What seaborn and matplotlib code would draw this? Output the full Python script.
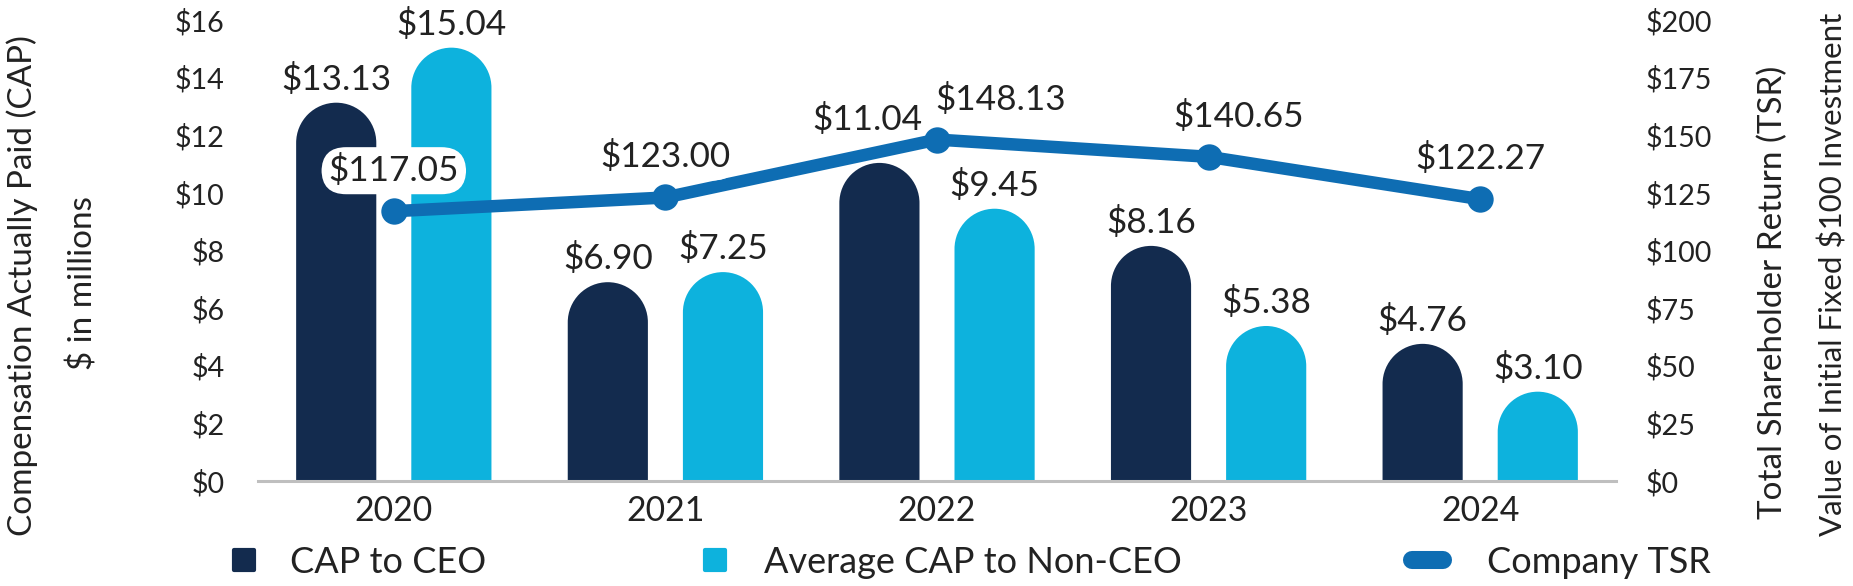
import numpy as np
import pandas as pd
import matplotlib
matplotlib.use("Agg")
import matplotlib.pyplot as plt
from matplotlib.path import Path
from matplotlib.patches import PathPatch
from matplotlib.lines import Line2D
from matplotlib.markers import MarkerStyle
import seaborn as sns

# Data
years = ["2020", "2021", "2022", "2023", "2024"]
cap_ceo = [13.13, 6.90, 11.04, 8.16, 4.76]
cap_non_ceo = [15.04, 7.25, 9.45, 5.38, 3.10]
company_tsr = [117.05, 123.00, 148.13, 140.65, 122.27]

series_names = ["CAP to CEO", "Average CAP to Non-CEO"]
tsr_name = "Company TSR"

DARK = "#132B4E"
CYAN = "#0DB2DD"
LINE = "#0E6DB3"
TEXT = "#222222"
AXIS = "#BFBFBF"

sns.set_theme(style="white")
plt.rcParams["font.family"] = ["Lato", "DejaVu Sans"]
plt.rcParams["text.color"] = TEXT
plt.rcParams["xtick.color"] = TEXT
plt.rcParams["ytick.color"] = TEXT

df = pd.DataFrame({
    "Year": years * 2,
    "CAP": cap_ceo + cap_non_ceo,
    "Series": [series_names[0]] * len(years) + [series_names[1]] * len(years),
})

W, H = 1853, 586
fig = plt.figure(figsize=(W / 100, H / 100), dpi=100)
renderer = fig.canvas.get_renderer()
PT = 0.72  # points per pixel at dpi 100


def fit_size(text, target_px, vertical=False, base=20):
    # font size that gives the text the wanted length in pixels
    t = fig.text(0, 0, text, fontsize=base,
                 rotation=90 if vertical else 0)
    bb = t.get_window_extent(renderer)
    t.remove()
    return base * target_px / (bb.height if vertical else bb.width)


tick_fs = fit_size("$16", 50)
year_fs = fit_size("2020", 78)
value_fs = fit_size("$13.13", 110)
legend_fs = fit_size("Average CAP to Non-CEO", 418)

ax = fig.add_axes([258 / W, 105 / H, (1616 - 258) / W, (481 - 20) / H])

sns.barplot(data=df, x="Year", y="CAP", hue="Series", order=years,
            hue_order=series_names, palette=[DARK, CYAN], width=0.848,
            gap=0.304, saturation=1, errorbar=None, legend=False,
            linewidth=0, edgecolor="none", ax=ax)

ax.set_xlim(-0.5, 4.5)
ax.set_ylim(0, 16)
ax.set_yticks(np.arange(0, 17, 2))
ax.set_yticklabels([f"${v}" for v in range(0, 17, 2)], fontsize=tick_fs)
ax.tick_params(axis="y", length=0, pad=24)
ax.tick_params(axis="x", length=0, pad=10, labelsize=year_fs)
ax.set_xlabel("")
ax.set_ylabel("")
for s in ["top", "right", "left"]:
    ax.spines[s].set_visible(False)
ax.spines["bottom"].set_color(AXIS)
ax.spines["bottom"].set_linewidth(2.2)

# rounded tops on bars: rebuild each seaborn bar as one path
px_x = ax.transData.transform((1, 0))[0] - ax.transData.transform((0, 0))[0]
px_y = ax.transData.transform((0, 1))[1] - ax.transData.transform((0, 0))[1]
arc = Path.arc(0, 180)
bar_label_adjust = {(0, 2): (-12, 33)}  # (series, year) -> (dx px, dy px)
for i, p in enumerate(list(ax.patches)):
    x, w, h = p.get_x(), p.get_width(), p.get_height()
    color = p.get_facecolor()
    p.remove()
    ry = (w * px_x / 2) / px_y
    cx = x + w / 2
    verts = [(x + w, 0.0), (x + w, h - ry)]
    codes = [Path.MOVETO, Path.LINETO]
    verts += list(arc.vertices[1:] * [w / 2, ry] + [cx, h - ry])
    codes += list(arc.codes[1:])
    verts += [(x, 0.0), (x + w, 0.0)]
    codes += [Path.LINETO, Path.CLOSEPOLY]
    ax.add_patch(PathPatch(Path(verts, codes), facecolor=color,
                           edgecolor="none", linewidth=0))
    s_idx, y_idx = divmod(i, len(years))
    dx, dy = bar_label_adjust.get((s_idx, y_idx), (0, 13))
    ax.annotate(f"${h:.2f}", (cx, h), xytext=(dx * PT, dy * PT),
                textcoords="offset points", ha="center", va="baseline",
                fontsize=value_fs, annotation_clip=False)

# TSR line on secondary axis
ax2 = ax.twinx()
xpos = np.arange(len(years))
sns.lineplot(x=xpos, y=company_tsr, ax=ax2, color=LINE, linewidth=9,
             marker="o", markersize=19, markeredgewidth=0,
             solid_capstyle="round")
ax2.set_ylim(0, 200)
ax2.set_xlim(-0.5, 4.5)
ax2.set_yticks(np.arange(0, 201, 25))
ax2.set_yticklabels([f"${v}" for v in range(0, 201, 25)], fontsize=tick_fs)
ax2.tick_params(axis="y", length=0, pad=21)
for s in ax2.spines.values():
    s.set_visible(False)
tsr_label_dx = {2: 64, 3: 30}  # year index -> dx px
for j, (xp, v) in enumerate(zip(xpos, company_tsr)):
    ax2.annotate(f"${v:.2f}", (xp, v),
                 xytext=(tsr_label_dx.get(j, 0) * PT, 30 * PT),
                 textcoords="offset points", ha="center", va="baseline",
                 fontsize=value_fs, annotation_clip=False,
                 bbox=dict(boxstyle="round,pad=0.2,rounding_size=0.7",
                           fc="white", ec="none"))

# axis titles, sized to the lengths seen in the original
titles = [
    ("Compensation Actually Paid (CAP)", 22, 286, 510),
    ("$ in millions", 83, 283, 179),
    ("Total Shareholder Return (TSR)", 1773, 292, 460),
    ("Value of Initial Fixed $100 Investment", 1833, 274, 526),
]
title_fs = np.mean([fit_size(t, L, vertical=True) for t, _, _, L in titles])
for t, tx, ty, L in titles:
    fig.text(tx / W, 1 - ty / H, t, rotation=90, ha="center", va="center",
             fontsize=min(title_fs, fit_size(t, L, vertical=True)))

# legend, drawn by hand at the original spots
legend_y = 1 - 573 / H
sq = MarkerStyle("s", joinstyle="round")
for color, cx in [(DARK, 243.5), (CYAN, 715)]:
    fig.add_artist(Line2D([cx / W], [1 - 560 / H], transform=fig.transFigure,
                          linestyle="none", marker=sq, markersize=14,
                          markerfacecolor=color, markeredgecolor=color,
                          markeredgewidth=3))
fig.add_artist(Line2D([1412 / W, 1443 / W], [1 - 560 / H, 1 - 560 / H],
                      transform=fig.transFigure, color=LINE, linewidth=13,
                      solid_capstyle="round"))
for label, tx in zip(series_names + [tsr_name], [290, 764, 1487]):
    fig.text(tx / W, legend_y, label, ha="left", va="baseline",
             fontsize=legend_fs)

fig.savefig("out.png", dpi=100)
